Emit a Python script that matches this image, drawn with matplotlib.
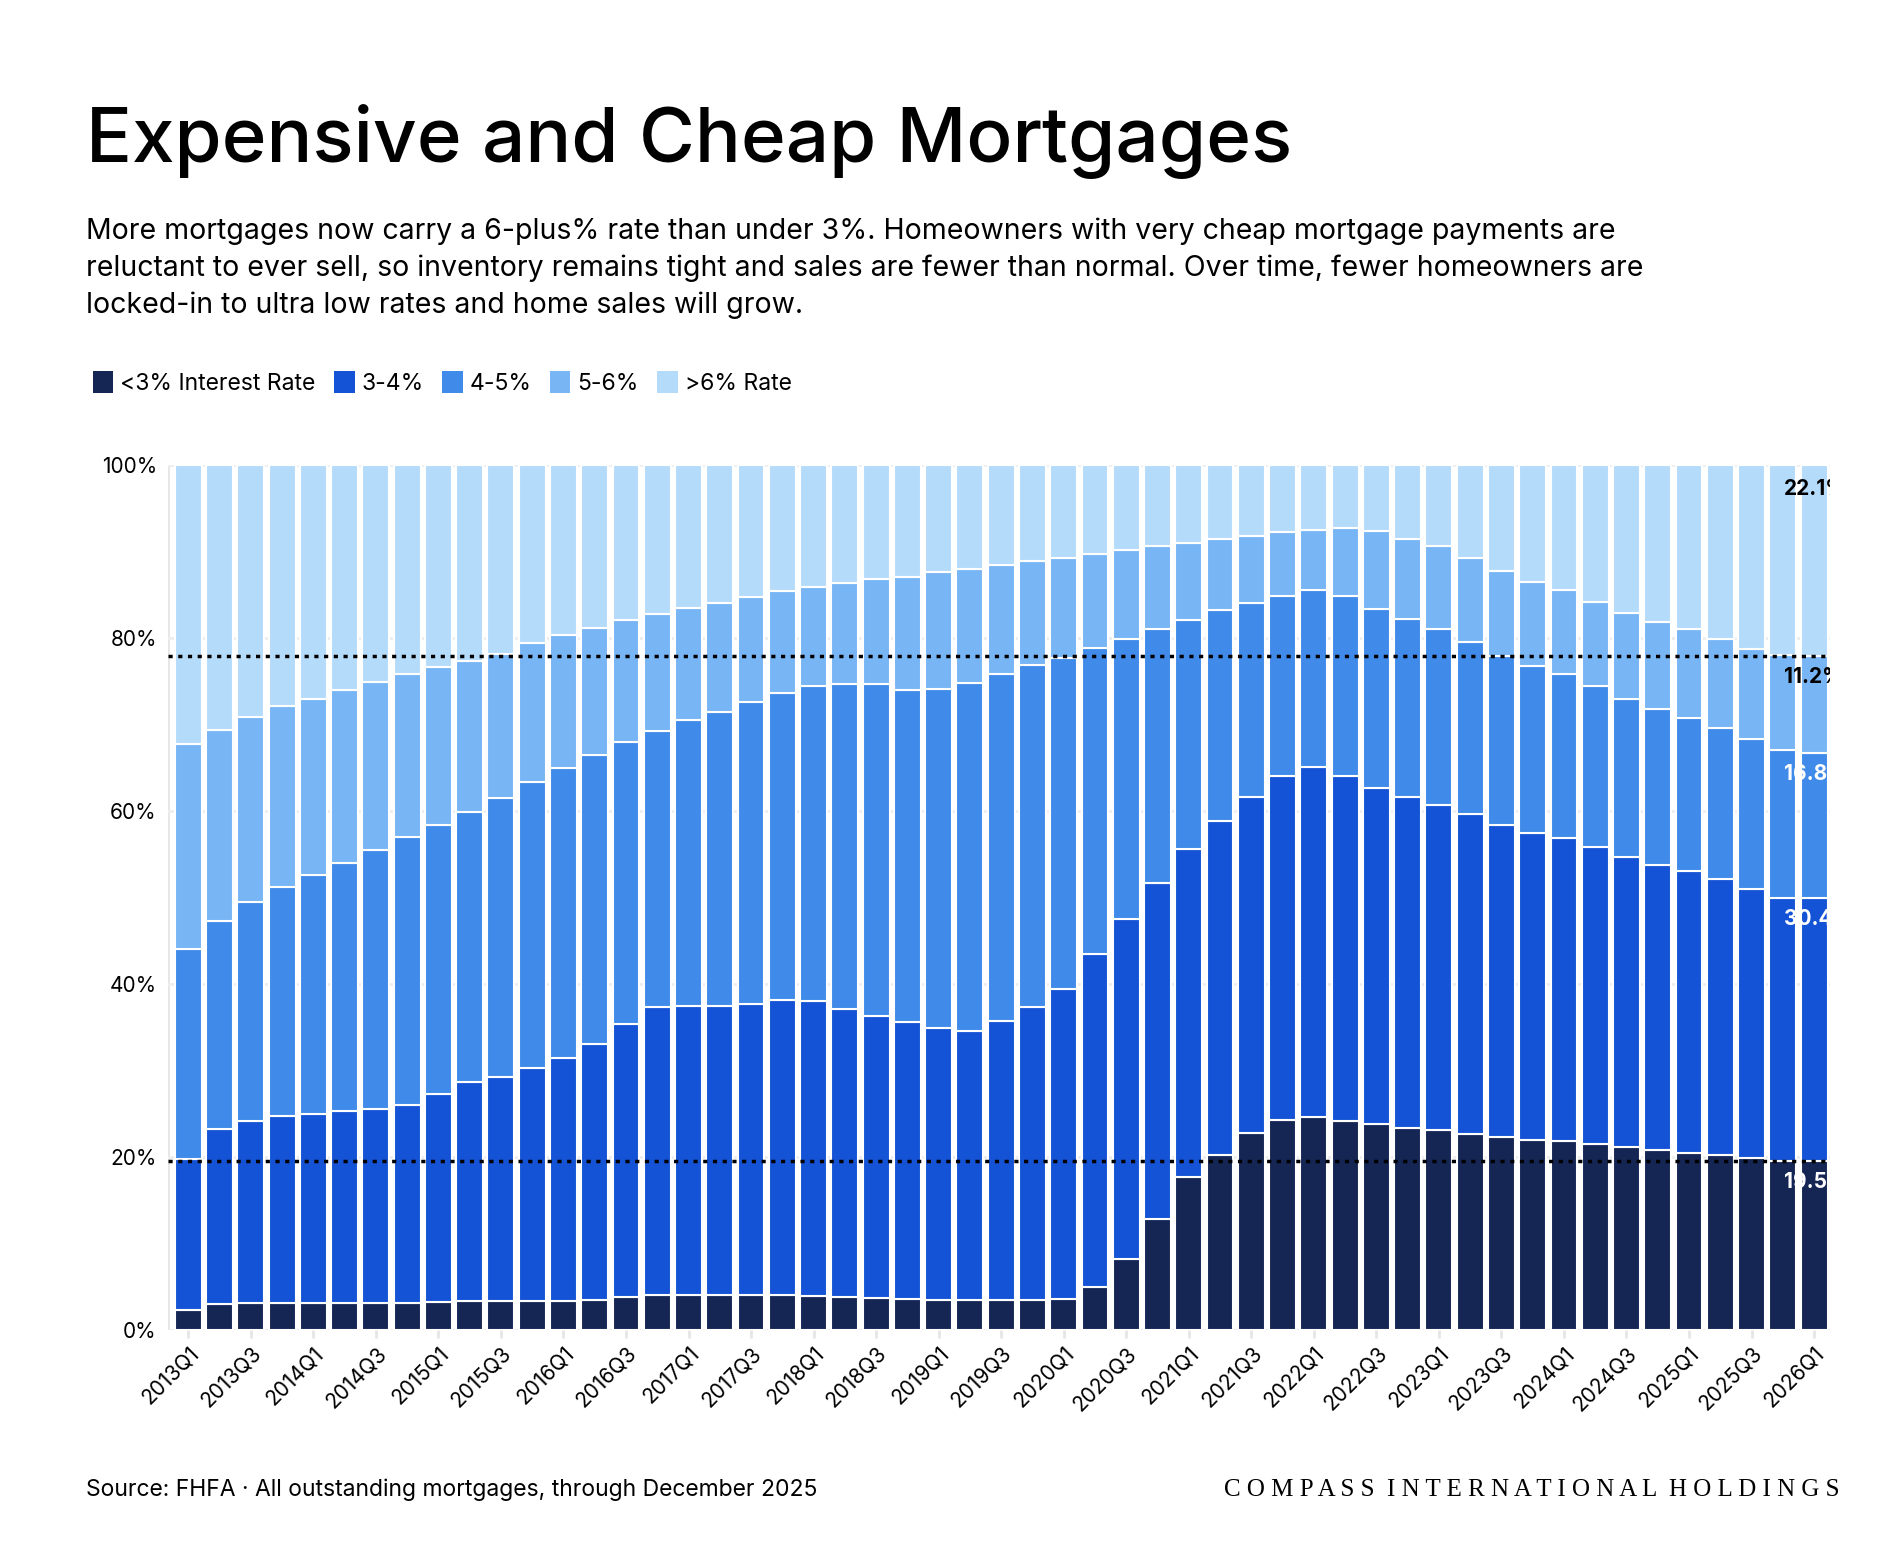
import matplotlib
matplotlib.use("Agg")
import matplotlib.pyplot as plt
from matplotlib.patches import Patch
import numpy as np

plt.rcParams['font.family'] = ['Inter', 'DejaVu Sans']

quarters = [f"{y}Q{q}" for y in range(2013, 2026) for q in range(1, 5)] + ["2026Q1"]
# cumulative tops (%)
cum_lt3 = [2.3,3.0,3.1,3.1,3.1,3.1,3.1,3.1,3.2,3.3,3.3,3.3,3.4,3.5,3.8,4.1,4.1,4.0,4.0,4.0,3.9,3.8,3.7,3.6,3.5,3.5,3.5,3.5,3.6,5.0,8.2,12.8,17.7,20.2,22.8,24.3,24.6,24.2,23.8,23.4,23.1,22.7,22.3,22.0,21.8,21.5,21.1,20.8,20.5,20.2,19.9,19.5,19.5]
cum_34 = [19.8,23.2,24.2,24.7,25.0,25.3,25.6,26.0,27.3,28.7,29.2,30.3,31.4,33.1,35.4,37.3,37.5,37.5,37.7,38.1,38.0,37.1,36.3,35.6,34.9,34.6,35.7,37.3,39.4,43.5,47.5,51.7,55.6,58.9,61.6,64.0,65.1,64.1,62.7,61.6,60.7,59.6,58.4,57.5,56.9,55.8,54.7,53.8,53.1,52.1,51.0,50.0,49.9]
cum_45 = [44.0,47.3,49.5,51.2,52.6,54.0,55.5,57.0,58.4,59.9,61.5,63.4,65.0,66.5,68.0,69.3,70.5,71.4,72.6,73.7,74.4,74.7,74.7,74.0,74.1,74.8,75.8,76.9,77.7,78.9,79.9,81.0,82.1,83.2,84.0,84.9,85.5,84.9,83.4,82.2,81.0,79.5,77.9,76.8,75.8,74.4,73.0,71.8,70.7,69.6,68.3,67.0,66.7]
cum_56 = [67.7,69.4,70.9,72.1,73.0,74.0,74.9,75.8,76.6,77.4,78.2,79.4,80.3,81.2,82.1,82.8,83.5,84.1,84.8,85.4,85.9,86.4,86.8,87.1,87.6,88.0,88.5,88.9,89.3,89.7,90.2,90.6,91.0,91.4,91.8,92.3,92.5,92.7,92.4,91.4,90.6,89.2,87.8,86.5,85.6,84.2,82.9,81.9,81.1,79.9,78.7,78.0,77.9]
series_names = ["<3% Interest Rate", "3-4%", "4-5%", "5-6%", ">6% Rate"]
colors = ["#152655", "#1553D6", "#408AEA", "#78B5F5", "#B5DBFB"]
end_labels = ["19.5%", "30.4%", "16.8%", "11.2%", "22.1%"]

tops = np.array([cum_lt3, cum_34, cum_45, cum_56, [100.0]*len(quarters)])
bottoms = np.vstack([np.zeros(len(quarters)), tops[:-1]])
x = np.arange(len(quarters))

fig = plt.figure(figsize=(19, 15.68), dpi=100)
ax = fig.add_axes([0.0884, 0.1518, 0.8746, 0.5516])
for i in range(5):
    ax.bar(x, tops[i]-bottoms[i], bottom=bottoms[i], width=0.86, color=colors[i],
           edgecolor="white", linewidth=1.5, zorder=2)
ax.set_xlim(-0.65, len(quarters)-0.5)
ax.set_ylim(0, 100)
ax.set_yticks([0, 20, 40, 60, 80, 100])
ax.set_yticklabels([f"{v}%" for v in [0, 20, 40, 60, 80, 100]], fontsize=15)
ax.set_xticks(x[::2])
ax.set_xticklabels(quarters[::2], rotation=45, ha="right", rotation_mode="anchor", fontsize=15)
ax.tick_params(axis="y", length=0, pad=8)
ax.tick_params(axis="x", length=6, color="#e6e6e6", width=2)
ax.grid(axis="y", color="#eeeeee", linewidth=2, zorder=0)
for s in ax.spines.values():
    s.set_visible(False)
ax.axvline(-0.65, color="#e6e6e6", linewidth=2, zorder=1)
ax.axhline(0, color="#e6e6e6", linewidth=2, zorder=1)

ax.axhline(100 - 22.1, color="black", linestyle=(0, (1.2, 1.6)), linewidth=2.5, zorder=4)
ax.axhline(cum_lt3[-1], color="black", linestyle=(0, (1.2, 1.6)), linewidth=2.5, zorder=4)

last = len(quarters) - 1
lab_y = [cum_lt3[-1]-2.4, cum_34[-1]-2.4, cum_45[-1]-2.4, cum_56[-1]-2.4, 97.2]
lab_c = ["white", "white", "white", "black", "black"]
for ly, lt, lc in zip(lab_y, end_labels, lab_c):
    ax.text(last - 0.95, ly, lt, color=lc, fontsize=15, fontweight="bold",
            ha="left", va="center", zorder=5, clip_on=True)

fig.text(0.045, 0.910, "Expensive and Cheap Mortgages", fontsize=55, fontweight="medium", va="center")
fig.text(0.045, 0.829, "More mortgages now carry a 6-plus% rate than under 3%. Homeowners with very cheap mortgage payments are\n"
         "reluctant to ever sell, so inventory remains tight and sales are fewer than normal. Over time, fewer homeowners are\n"
         "locked-in to ultra low rates and home sales will grow.", fontsize=20.5, va="center", linespacing=1.45)

handles = [Patch(facecolor=c, edgecolor="none") for c in colors]
fig.legend(handles, series_names, loc="center left", bbox_to_anchor=(0.038, 0.7555), ncol=5,
           frameon=False, fontsize=16.5, handlelength=0.9, handleheight=1.1, handletextpad=0.3,
           columnspacing=0.8)

fig.text(0.045, 0.050, "Source: FHFA · All outstanding mortgages, through December 2025", fontsize=16.5, va="center")
fig.text(0.968, 0.050, "C O M P A S S   I N T E R N A T I O N A L   H O L D I N G S".replace("   ", "  "),
         fontsize=18, family="Liberation Serif", ha="right", va="center")

fig.savefig("out.png", dpi=100, facecolor="white")
